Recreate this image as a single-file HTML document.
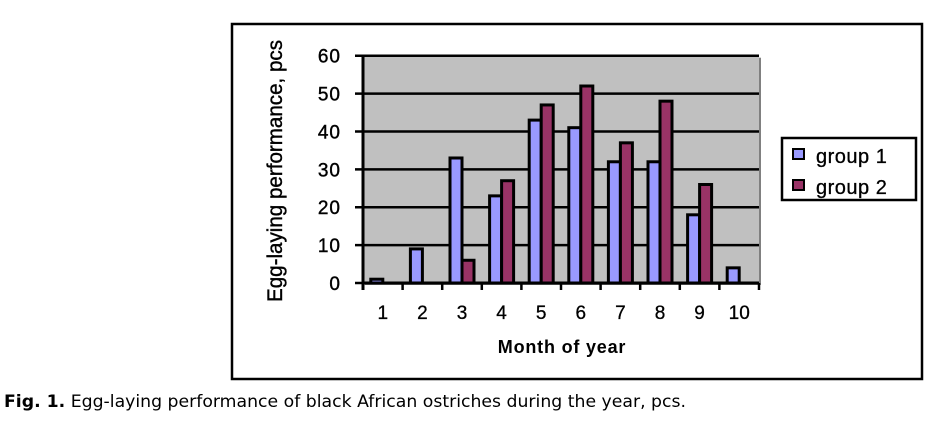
<!DOCTYPE html>
<html><head><meta charset="utf-8"><style>
body{margin:0;background:#fff;width:947px;height:423px;overflow:hidden}
</style></head><body>
<svg width="947" height="423" xmlns="http://www.w3.org/2000/svg" font-family="Liberation Sans, Arial, sans-serif">
<rect x="232" y="24" width="690" height="355" fill="#fff" stroke="#000" stroke-width="2.5"/>
<g id="plot"></g>
<text x="282" y="171" font-size="21" text-anchor="middle" textLength="262" lengthAdjust="spacingAndGlyphs" stroke="#000" stroke-width="0.4" transform="rotate(-90 282 171)">Egg-laying performance, pcs</text>
<text x="562" y="353" font-size="18" font-weight="bold" text-anchor="middle" letter-spacing="0.8">Month of year</text>
<g>
<rect x="782" y="138" width="134" height="62" fill="#fff" stroke="#000" stroke-width="2.5"/>
<rect x="793" y="149" width="11" height="10" fill="#9999ff" stroke="#000" stroke-width="2"/>
<text x="816" y="163" font-size="20" stroke="#000" stroke-width="0.3" letter-spacing="0.5">group  1</text>
<rect x="793" y="180" width="11" height="10" fill="#993366" stroke="#000" stroke-width="2"/>
<text x="816" y="194" font-size="20" stroke="#000" stroke-width="0.3" letter-spacing="0.5">group  2</text>
</g>
<text x="4" y="407" font-family="DejaVu Sans, sans-serif" font-size="17" textLength="682" lengthAdjust="spacingAndGlyphs"><tspan font-weight="bold">Fig. 1.</tspan> Egg-laying performance of black African ostriches during the year, pcs.</text>
</svg>
<script>
const categories=["1","2","3","4","5","6","7","8","9","10"];
const group1=[1,9,33,23,43,41,32,32,18,4];
const group2=[0,0,6,27,47,52,37,48,26,0];
const yTicks=[0,10,20,30,40,50,60];
const NS="http://www.w3.org/2000/svg";
const L=363,R=759,T=55.7,B=283,YMAX=60;
const y=v=>B-(v/YMAX)*(B-T);
const cw=(R-L)/categories.length;
const xc=i=>L+cw*(i+0.5);
const g=document.getElementById('plot');
function mk(tag,attrs){const e=document.createElementNS(NS,tag);for(const k in attrs)e.setAttribute(k,attrs[k]);g.appendChild(e);return e;}
let e=mk('rect',{x:L+2,y:T+2,width:R-L,height:B-T,fill:'#808080'});


e=mk('rect',{x:L,y:T,width:R-L,height:B-T,fill:'#c0c0c0'});


yTicks.forEach(t=>{
  const l=mk('line',{x1:L-8,x2:R,y1:y(t),y2:y(t),stroke:'#000','stroke-width':2.5});
  
  
  const tx=mk('text',{x:341,y:y(t)+7,'font-size':19,'text-anchor':'end','font-family':'Liberation Sans, Arial, sans-serif','letter-spacing':'1',stroke:'#000','stroke-width':0.4});
  tx.textContent=t;
  
  
});
categories.forEach((c,i)=>{
  const bw=12;
  const v1=group1[i],v2=group2[i];
  if(v1>0){const b=mk('rect',{x:xc(i)-bw,y:y(v1),width:bw,height:B-y(v1),fill:'#9999ff',stroke:'#000','stroke-width':3});
    
    }
  if(v2>0){const b=mk('rect',{x:xc(i),y:y(v2),width:bw,height:B-y(v2),fill:'#993366',stroke:'#000','stroke-width':3});
    
    }
  const tx=mk('text',{x:xc(i),y:319,'font-size':19,'text-anchor':'middle','font-family':'Liberation Sans, Arial, sans-serif',stroke:'#000','stroke-width':0.3});
  tx.textContent=c;
  
  
});
for(let i=0;i<=categories.length;i++){
  const l=mk('line',{x1:L+cw*i,x2:L+cw*i,y1:B,y2:B+7,stroke:'#000','stroke-width':2.5});
  
  
}
e=mk('line',{x1:L,x2:L,y1:T,y2:B+7,stroke:'#000','stroke-width':3});


e=mk('line',{x1:L,x2:R,y1:B,y2:B,stroke:'#000','stroke-width':3});


</script>
</body></html>
